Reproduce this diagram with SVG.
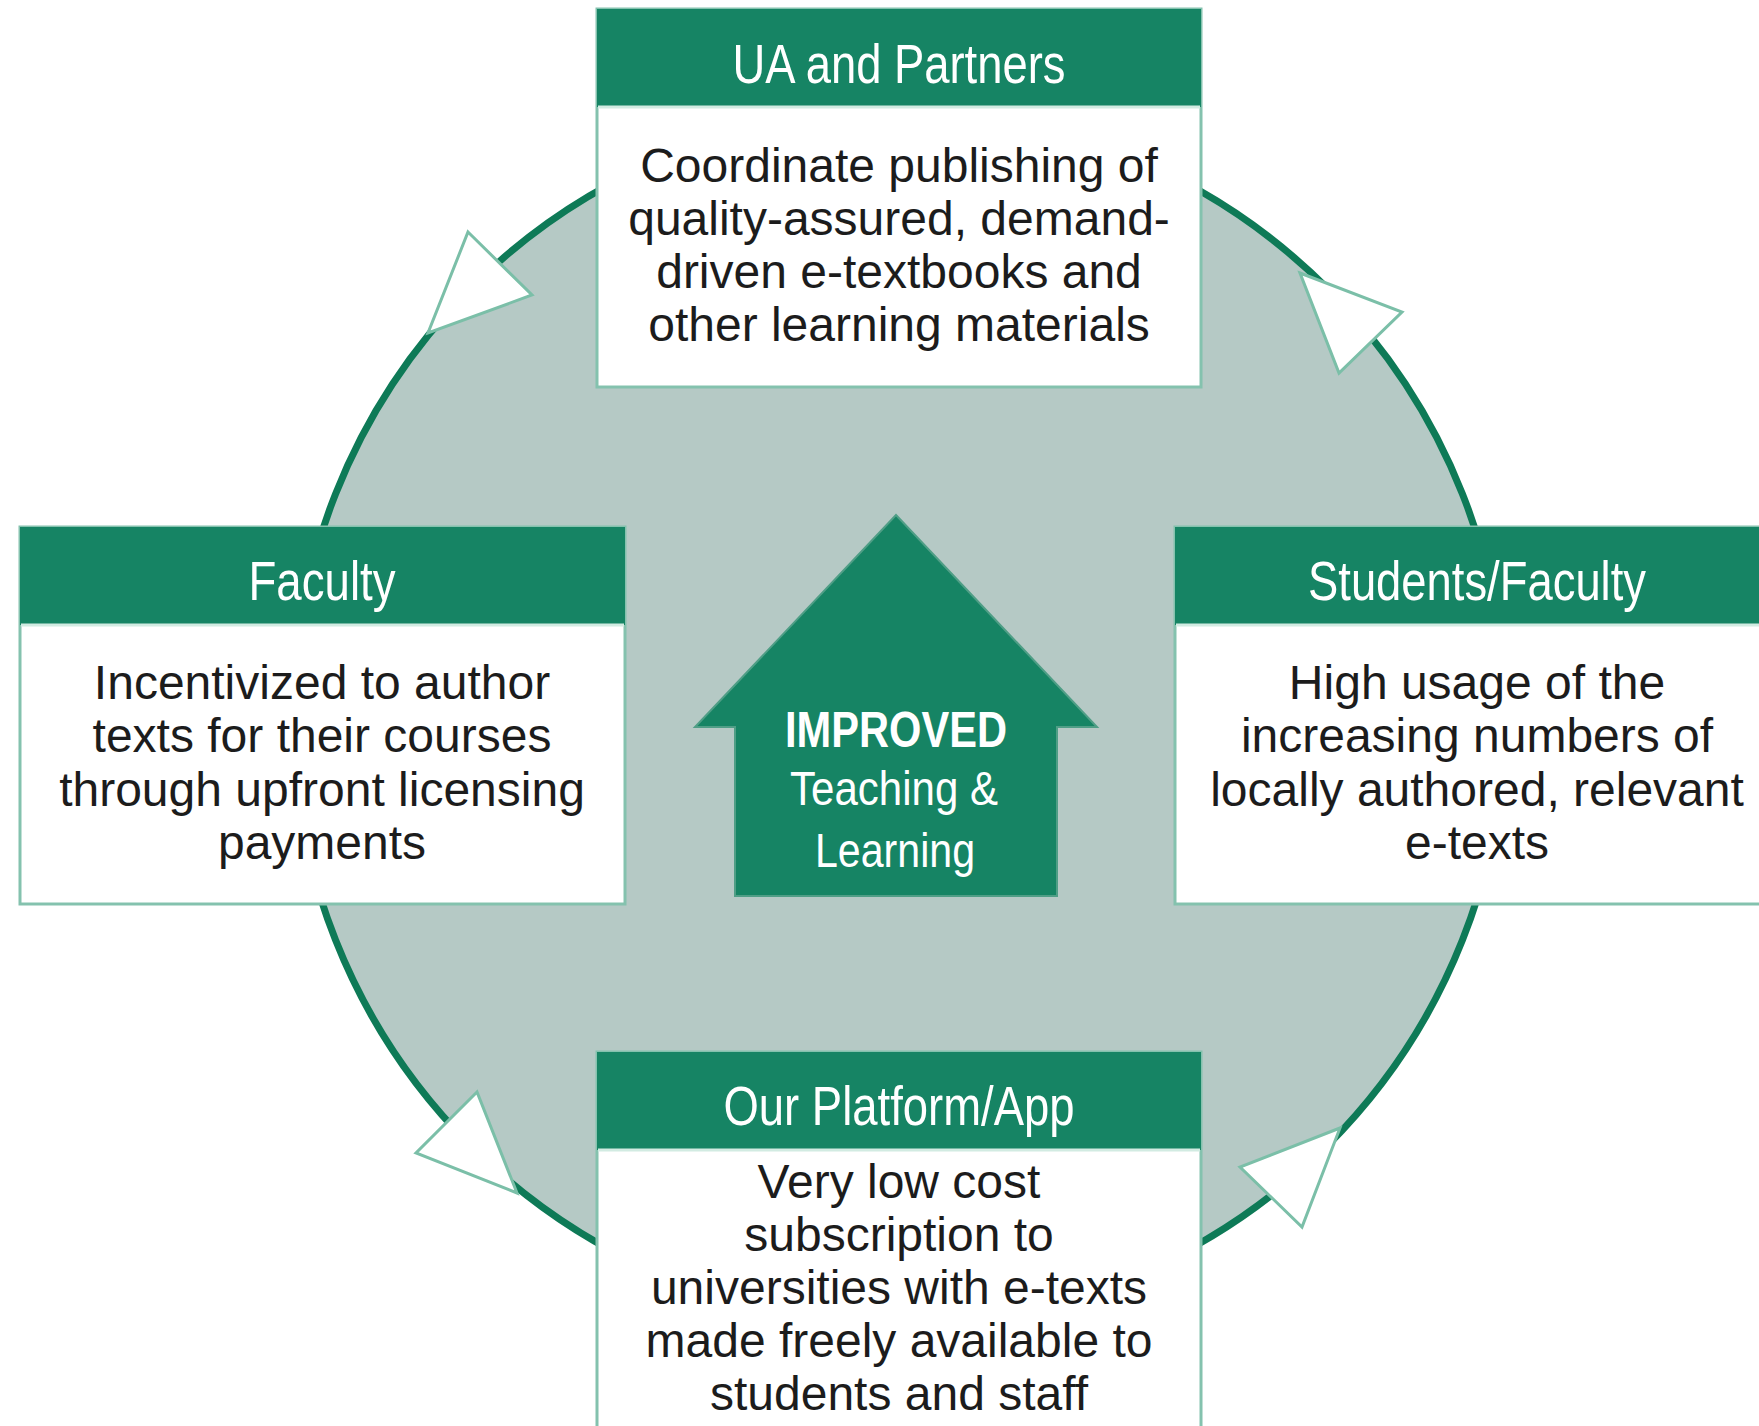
<svg xmlns="http://www.w3.org/2000/svg" width="1759" height="1426" viewBox="0 0 1759 1426">
<style>
.box{fill:#ffffff;stroke:#84c2ae;stroke-width:3}
.hdr{fill:#168464}
.sep{stroke:#d2ebe2;stroke-width:3}
.ht{font-family:"Liberation Sans Narrow","Liberation Sans",Arial,sans-serif;font-size:55px;fill:#ffffff;text-anchor:middle}
.bt{font-family:"Liberation Sans",Arial,sans-serif;font-size:48px;fill:#1c1c1c;text-anchor:middle}
.arr{fill:#ffffff;stroke:#7bbfa8;stroke-width:3;stroke-linejoin:miter}
.ct{font-family:"Liberation Sans Narrow","Liberation Sans",Arial,sans-serif;fill:#ffffff;text-anchor:middle}
</style>
<rect width="1759" height="1426" fill="#ffffff"/>
<g id="cycle">
<circle cx="899" cy="717" r="606" fill="#b5c9c5" stroke="#0e7a57" stroke-width="7"/>
</g>
<g id="connectors">
<polygon class="arr" points="468,232 532,295 428,333"/>
<polygon class="arr" points="1300,273 1402,312 1339,373"/>
<polygon class="arr" points="477,1092 416,1153 517,1193"/>
<polygon class="arr" points="1340,1128 1240,1167 1302,1227"/>
</g>
<g id="center">
<polygon points="896,515 1097,727 1057,727 1057,896 735,896 735,727 695,727" fill="#168464" stroke="#4f9e86" stroke-width="2"/>
<text class="ct" x="896" y="747" font-size="50" font-weight="bold" textLength="222" lengthAdjust="spacingAndGlyphs">IMPROVED</text>
<text class="ct" x="894" y="805" font-size="49" textLength="208" lengthAdjust="spacingAndGlyphs">Teaching &amp;</text>
<text class="ct" x="895" y="867" font-size="49" textLength="160" lengthAdjust="spacingAndGlyphs">Learning</text>
</g>
<g id="ua-partners">
<rect class="box" x="597" y="9" width="604" height="378"/>
<rect class="hdr" x="597" y="9" width="604" height="98"/>
<line class="sep" x1="598" y1="107" x2="1200" y2="107"/>
<text class="ht" x="899" y="83" textLength="333" lengthAdjust="spacingAndGlyphs">UA and Partners</text>
<text class="bt" x="899" y="182">Coordinate publishing of</text>
<text class="bt" x="899" y="235">quality-assured, demand-</text>
<text class="bt" x="899" y="288">driven e-textbooks and</text>
<text class="bt" x="899" y="341">other learning materials</text>
</g>
<g id="faculty">
<rect class="box" x="20" y="527" width="605" height="377"/>
<rect class="hdr" x="20" y="527" width="605" height="98"/>
<line class="sep" x1="21" y1="625" x2="624" y2="625"/>
<text class="ht" x="322" y="600" textLength="147" lengthAdjust="spacingAndGlyphs">Faculty</text>
<text class="bt" x="322" y="699">Incentivized to author</text>
<text class="bt" x="322" y="752">texts for their courses</text>
<text class="bt" x="322" y="806">through upfront licensing</text>
<text class="bt" x="322" y="859">payments</text>
</g>
<g id="students-faculty">
<rect class="box" x="1175" y="527" width="604" height="377"/>
<rect class="hdr" x="1175" y="527" width="604" height="98"/>
<line class="sep" x1="1176" y1="625" x2="1778" y2="625"/>
<text class="ht" x="1477" y="600" textLength="338" lengthAdjust="spacingAndGlyphs">Students/Faculty</text>
<text class="bt" x="1477" y="699">High usage of the</text>
<text class="bt" x="1477" y="752">increasing numbers of</text>
<text class="bt" x="1477" y="806">locally authored, relevant</text>
<text class="bt" x="1477" y="859">e-texts</text>
</g>
<g id="platform-app">
<rect class="box" x="597" y="1052" width="604" height="390"/>
<rect class="hdr" x="597" y="1052" width="604" height="98"/>
<line class="sep" x1="598" y1="1150" x2="1200" y2="1150"/>
<text class="ht" x="899" y="1125" textLength="351" lengthAdjust="spacingAndGlyphs">Our Platform/App</text>
<text class="bt" x="899" y="1198">Very low cost</text>
<text class="bt" x="899" y="1251">subscription to</text>
<text class="bt" x="899" y="1304">universities with e-texts</text>
<text class="bt" x="899" y="1357">made freely available to</text>
<text class="bt" x="899" y="1410">students and staff</text>
</g>
</svg>
